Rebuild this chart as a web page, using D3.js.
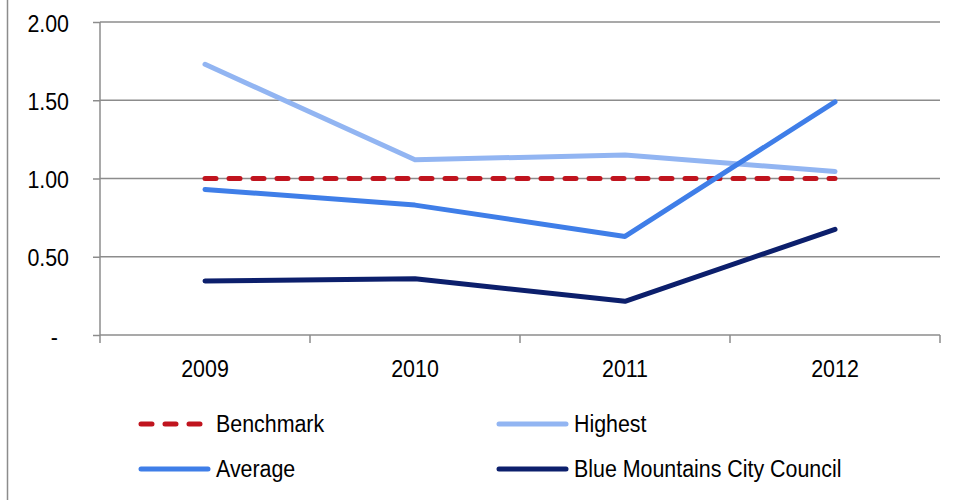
<!DOCTYPE html>
<html><head><meta charset="utf-8">
<script src="https://cdn.jsdelivr.net/npm/d3@7"></script>
<style>
html,body{margin:0;padding:0;background:#fff;}
svg text{font-family:"Liberation Sans",Arial,sans-serif;font-size:21.4px;fill:#000;}
</style></head>
<body><svg id="chart" width="959" height="500"></svg>
<script>
const categories = ["2009","2010","2011","2012"];
const benchmark = [1.00, 1.00, 1.00, 1.00];
const highest = [1.73, 1.12, 1.15, 1.045];
const average = [0.93, 0.83, 0.63, 1.49];
const bmcc = [0.345, 0.36, 0.215, 0.675];
const yTicks = [0, 0.5, 1, 1.5, 2];
const yTickLabels = ["-", "0.50", "1.00", "1.50", "2.00"];

const series = [
  {name:"Benchmark", values:benchmark, color:"#c0141e", dash:"11,13"},
  {name:"Highest", values:highest, color:"#92b5f2", dash:null},
  {name:"Average", values:average, color:"#3f7ee8", dash:null},
  {name:"Blue Mountains City Council", values:bmcc, color:"#0c1f6c", dash:null}
];
const drawOrder = [1,0,2,3];

const svg = d3.select("#chart");
const pLeft = 100, pRight = 940, pTop = 22, pBottom = 335;
const SY = 1.16;

// place text at (tx,ty) baseline, stretched vertically
function place(sel, tx, ty){
  sel.attr("x",0).attr("y",0).attr("dy",null)
     .attr("transform",(d,i)=>`translate(${typeof tx==="function"?tx(d,i):tx},${typeof ty==="function"?ty(d,i):ty}) scale(1,${SY})`);
}

svg.append("line").attr("x1",7.5).attr("x2",7.5).attr("y1",0).attr("y2",500)
  .attr("stroke","#8c8c8c").attr("stroke-width",1.5);

const x = d3.scaleBand().domain(categories).range([pLeft,pRight]).padding(0);
const y = d3.scaleLinear().domain([0,2]).range([pBottom,pTop]);

svg.append("g").selectAll("line").data(yTicks.filter(d=>d>0)).join("line")
  .attr("x1",pLeft).attr("x2",pRight).attr("y1",d=>y(d)).attr("y2",d=>y(d))
  .attr("stroke","#8c8c8c").attr("stroke-width",1.5);

const yAxis = d3.axisLeft(y).tickValues(yTicks).tickSize(7).tickPadding(0)
  .tickFormat((d,i)=>yTickLabels[i]);
const gy = svg.append("g").attr("transform",`translate(${pLeft},0)`).call(yAxis);
gy.attr("font-size",null).attr("font-family",null);
gy.select(".domain").attr("stroke","#8c8c8c").attr("stroke-width",1.5).attr("d",`M0,${pTop}V${pBottom}`);
gy.selectAll(".tick line").attr("stroke","#8c8c8c").attr("stroke-width",1.5);
place(gy.selectAll(".tick text"), d=>d===0?-42:-31, 9);

const xAxis = d3.axisBottom(x).tickSize(0).tickPadding(0);
const gx = svg.append("g").attr("transform",`translate(0,${pBottom})`).call(xAxis);
gx.attr("font-size",null).attr("font-family",null);
gx.select(".domain").attr("stroke","#8c8c8c").attr("stroke-width",1.5).attr("d",`M${pLeft},0H${pRight}`);
place(gx.selectAll(".tick text"), 0, 42);
const bounds = categories.map(c=>x(c)).concat([x(categories[categories.length-1])+x.bandwidth()]);
gx.append("g").selectAll("line").data(bounds).join("line")
  .attr("x1",d=>d).attr("x2",d=>d).attr("y1",0).attr("y2",8)
  .attr("stroke","#8c8c8c").attr("stroke-width",1.5);

const line = d3.line().x((d,i)=>x(categories[i])+x.bandwidth()/2).y(d=>y(d));
svg.append("g").selectAll("path").data(drawOrder.map(i=>series[i])).join("path")
  .attr("d",d=>line(d.values)).attr("fill","none").attr("stroke",d=>d.color)
  .attr("stroke-width",5).attr("stroke-linecap","round").attr("stroke-linejoin","round")
  .attr("stroke-dasharray",d=>d.dash);

const legPos = [[141,424],[499,424],[141,469],[499,469]];
const lg = svg.append("g").selectAll("g").data(series).join("g")
  .attr("transform",(d,i)=>`translate(${legPos[i][0]},${legPos[i][1]})`);
lg.append("line").attr("x1",0).attr("x2",67).attr("y1",0).attr("y2",0)
  .attr("stroke",d=>d.color).attr("stroke-width",5).attr("stroke-linecap","round")
  .attr("stroke-dasharray",d=>d.dash);
place(lg.append("text").text(d=>d.name), 75, 8);
</script></body></html>
